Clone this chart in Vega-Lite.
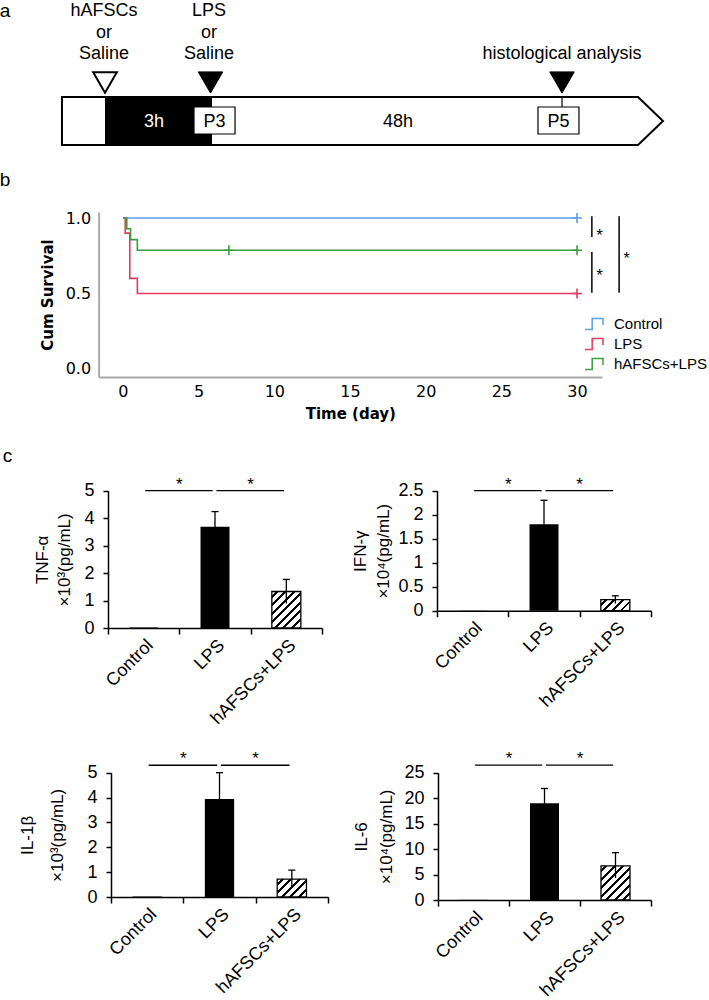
{
  "$schema": "https://vega.github.io/schema/vega-lite/v6.json",
  "width": 709,
  "height": 1000,
  "padding": 0,
  "autosize": {"type": "none"},
  "background": "white",
  "config": {"view": {"stroke": null}, "font": "Liberation Sans, Arial, sans-serif", "axis": {"grid": false}},
  "datasets": {
    "diagramOutline": [
      {"x": 8.74, "y": 64.67, "ord": 1}, {"x": 89.99, "y": 64.67, "ord": 2}, {"x": 93.51, "y": 80.67, "ord": 3},
      {"x": 89.99, "y": 96.67, "ord": 4}, {"x": 8.74, "y": 96.67, "ord": 5}, {"x": 8.74, "y": 64.67, "ord": 6}
    ],
    "diagramBlack": [{"x": 14.81, "x2": 29.9, "y": 64.67, "y2": 96.67}],
    "diagramBoxes": [{"x": 27.36, "x2": 33.15, "y": 71.33, "y2": 89.33}, {"x": 75.88, "x2": 81.66, "y": 71.33, "y2": 89.33}],
    "diagramTick": [{"x": 79.27, "y": 64.67, "y2": 71.33}],
    "openTriangle": [{"x": 14.81, "y": 55}],
    "filledTriangle": [{"x": 29.69, "y": 55}, {"x": 79.27, "y": 55}],
    "diagramText": [
      {"x": 14.67, "y": 7.33, "t": "hAFSCs"}, {"x": 14.67, "y": 21.67, "t": "or"}, {"x": 14.67, "y": 35.67, "t": "Saline"},
      {"x": 29.48, "y": 7.33, "t": "LPS"}, {"x": 29.48, "y": 21.67, "t": "or"}, {"x": 29.48, "y": 35.67, "t": "Saline"},
      {"x": 79.27, "y": 35.67, "t": "histological analysis"},
      {"x": 30.25, "y": 81, "t": "P3"}, {"x": 56.14, "y": 81.33, "t": "48h"}, {"x": 78.77, "y": 81, "t": "P5"}
    ],
    "diagramTextWhite": [{"x": 21.72, "y": 81.33, "t": "3h"}],
    "panelLetters": [{"x": 0.7, "y": 7.0, "t": "a"}, {"x": 0.7, "y": 120, "t": "b"}, {"x": 1.06, "y": 304, "t": "c"}],
    "survival": [
      {"group": "Control", "day": 0, "surv": 1}, {"group": "Control", "day": 30, "surv": 1},
      {"group": "LPS", "day": 0, "surv": 1}, {"group": "LPS", "day": 0.15, "surv": 0.9}, {"group": "LPS", "day": 0.45, "surv": 0.6},
      {"group": "LPS", "day": 0.95, "surv": 0.5}, {"group": "LPS", "day": 30, "surv": 0.5},
      {"group": "hAFSCs+LPS", "day": 0, "surv": 1}, {"group": "hAFSCs+LPS", "day": 0.25, "surv": 0.929},
      {"group": "hAFSCs+LPS", "day": 0.5, "surv": 0.857}, {"group": "hAFSCs+LPS", "day": 0.95, "surv": 0.786},
      {"group": "hAFSCs+LPS", "day": 30, "surv": 0.786}
    ],
    "censor": [
      {"group": "Control", "day": 30, "surv": 1}, {"group": "LPS", "day": 30, "surv": 0.5},
      {"group": "hAFSCs+LPS", "day": 7, "surv": 0.786}, {"group": "hAFSCs+LPS", "day": 30, "surv": 0.786}
    ],
    "brackets": [
      {"day": 30.98, "surv": 1.011, "surv2": 0.874}, {"day": 30.98, "surv": 0.775, "surv2": 0.504}, {"day": 32.78, "surv": 1.011, "surv2": 0.504}
    ],
    "bstars": [{"day": 31.49, "surv": 0.907, "t": "*"}, {"day": 31.49, "surv": 0.636, "t": "*"}, {"day": 33.28, "surv": 0.753, "t": "*"}],
    "tnf": [{"group": "Control", "v": 0.02}, {"group": "LPS", "v": 3.69}, {"group": "hAFSCs+LPS", "v": 1.33}],
    "tnfErr": [{"group": "LPS", "v": 4.24, "v2": 3.14}, {"group": "hAFSCs+LPS", "v": 1.77, "v2": 0.89}],
    "tnfSig": [{"group": "Control", "group2": "LPS", "v": 5.0, "t": "*"}, {"group": "LPS", "group2": "hAFSCs+LPS", "v": 5.0, "t": "*"}],
    "ifn": [{"group": "Control", "v": 0.004}, {"group": "LPS", "v": 1.8}, {"group": "hAFSCs+LPS", "v": 0.23}],
    "ifnErr": [{"group": "LPS", "v": 2.3, "v2": 1.3}, {"group": "hAFSCs+LPS", "v": 0.31, "v2": 0.15}],
    "ifnSig": [{"group": "Control", "group2": "LPS", "v": 2.5, "t": "*"}, {"group": "LPS", "group2": "hAFSCs+LPS", "v": 2.5, "t": "*"}],
    "il1": [{"group": "Control", "v": 0.02}, {"group": "LPS", "v": 3.94}, {"group": "hAFSCs+LPS", "v": 0.72}],
    "il1Err": [{"group": "LPS", "v": 5.0, "v2": 2.88}, {"group": "hAFSCs+LPS", "v": 1.08, "v2": 0.36}],
    "il1Sig": [{"group": "Control", "group2": "LPS", "v": 5.3, "t": "*"}, {"group": "LPS", "group2": "hAFSCs+LPS", "v": 5.3, "t": "*"}],
    "il6": [{"group": "Control", "v": 0.03}, {"group": "LPS", "v": 19.0}, {"group": "hAFSCs+LPS", "v": 6.7}],
    "il6Err": [{"group": "LPS", "v": 21.9, "v2": 16.1}, {"group": "hAFSCs+LPS", "v": 9.3, "v2": 4.3}],
    "il6Sig": [{"group": "Control", "group2": "LPS", "v": 26.5, "t": "*"}, {"group": "LPS", "group2": "hAFSCs+LPS", "v": 26.5, "t": "*"}]
  },
  "resolve": {"scale": {"x": "independent", "y": "independent"}, "axis": {"x": "independent", "y": "independent"}},
  "layer": [
    {
      "encoding": {
        "x": {"field": "x", "type": "quantitative", "scale": {"domain": [0, 100], "range": [0, 709], "nice": false, "zero": false}, "axis": null},
        "y": {"field": "y", "type": "quantitative", "scale": {"domain": [0, 100], "range": [0, 150], "nice": false, "zero": false}, "axis": null}
      },
      "layer": [
        {"data": {"name": "diagramBlack"}, "mark": {"type": "rect", "fill": "black"}, "encoding": {"x2": {"field": "x2"}, "y2": {"field": "y2"}}},
        {"data": {"name": "diagramOutline"}, "mark": {"type": "line", "stroke": "black", "strokeWidth": 2, "strokeCap": "square", "strokeJoin": "miter"}, "encoding": {"order": {"field": "ord", "type": "quantitative"}}},
        {"data": {"name": "diagramBoxes"}, "mark": {"type": "rect", "fill": "white", "stroke": "black", "strokeWidth": 1.2}, "encoding": {"x2": {"field": "x2"}, "y2": {"field": "y2"}}},
        {"data": {"name": "diagramTick"}, "mark": {"type": "rule", "stroke": "black", "strokeWidth": 1.2}, "encoding": {"y2": {"field": "y2"}}},
        {"data": {"name": "openTriangle"}, "mark": {"type": "point", "shape": "triangle-down", "size": 560, "filled": true, "fill": "white", "stroke": "black", "strokeWidth": 2, "opacity": 1}, "encoding": {}},
        {"data": {"name": "filledTriangle"}, "mark": {"type": "point", "shape": "triangle-down", "size": 600, "filled": true, "fill": "black", "stroke": "black", "strokeWidth": 1, "opacity": 1}, "encoding": {}},
        {"data": {"name": "diagramText"}, "mark": {"type": "text", "font": "Liberation Sans, Arial, sans-serif", "fontSize": 18, "align": "center", "baseline": "middle", "color": "black"}, "encoding": {"text": {"field": "t"}}},
        {"data": {"name": "diagramTextWhite"}, "mark": {"type": "text", "font": "Liberation Sans, Arial, sans-serif", "fontSize": 18, "align": "center", "baseline": "middle", "color": "white"}, "encoding": {"text": {"field": "t"}}},
        {"data": {"name": "panelLetters"}, "mark": {"type": "text", "fontSize": 19, "align": "center", "baseline": "middle", "color": "black"}, "encoding": {"text": {"field": "t"}}}
      ]
    },
    {
      "encoding": {
        "x": {"field": "day", "type": "quantitative",
          "scale": {"domain": [-1.61, 31.65], "range": [98.6, 602], "nice": false, "zero": false},
          "axis": {"orient": "bottom", "offset": -623, "values": [0, 5, 10, 15, 20, 25, 30], "title": "Time (day)", "titleFont": "DejaVu Sans, sans-serif", "titleFontWeight": "bold", "titleFontSize": 15, "titlePadding": 7, "titleColor": "black", "labelFont": "DejaVu Sans, sans-serif", "labelFontSize": 16, "labelPadding": 6, "labelColor": "black", "ticks": false, "domainColor": "#aaaaaa", "domainWidth": 2, "labelFlush": false}},
        "y": {"field": "surv", "type": "quantitative",
          "scale": {"domain": [-0.054, 1.04], "range": [377, 212], "nice": false, "zero": false},
          "axis": {"orient": "left", "offset": -98.6, "values": [0, 0.5, 1], "format": ".1f", "title": "Cum Survival", "titleFont": "DejaVu Sans, sans-serif", "titleFontWeight": "bold", "titleFontSize": 15, "titleX": -51, "titleBaseline": "middle", "titleColor": "black", "labelFont": "DejaVu Sans, sans-serif", "labelFontSize": 16, "labelPadding": 8, "labelColor": "black", "ticks": false, "domainColor": "#aaaaaa", "domainWidth": 2}}
      },
      "layer": [
        {"data": {"name": "survival"}, "mark": {"type": "line", "interpolate": "step-after", "strokeWidth": 1.6},
          "encoding": {"color": {"field": "group", "type": "nominal",
            "scale": {"domain": ["Control", "LPS", "hAFSCs+LPS"], "range": ["#5b9ee6", "#e6395e", "#3c9e3c"]},
            "legend": {"title": null, "orient": "none", "legendX": 584, "legendY": 314, "padding": 0, "symbolType": "M-1,0.6H-0.2V-0.6H1V0.1", "symbolSize": 324, "symbolStrokeWidth": 1.5, "labelFontSize": 15, "labelFont": "Liberation Sans, Arial, sans-serif", "labelColor": "black", "labelOffset": 10, "rowPadding": 1}}}},
        {"data": {"name": "censor"}, "mark": {"type": "point", "shape": "M-1,0H1M0,-1V1", "size": 100, "strokeWidth": 1.6, "filled": false, "opacity": 1},
          "encoding": {"color": {"field": "group", "type": "nominal", "legend": null}}},
        {"data": {"name": "brackets"}, "mark": {"type": "rule", "color": "black", "strokeWidth": 1.5}, "encoding": {"y2": {"field": "surv2"}}},
        {"data": {"name": "bstars"}, "mark": {"type": "text", "fontSize": 16, "baseline": "middle", "align": "center", "dy": 3.5, "color": "black"}, "encoding": {"text": {"field": "t"}}}
      ]
    },
    {
      "encoding": {
        "x": {"field": "group", "type": "nominal", "sort": null,
          "scale": {"domain": ["Control", "LPS", "hAFSCs+LPS"], "range": [108, 322], "paddingInner": 0, "paddingOuter": 0},
          "axis": {"orient": "bottom", "offset": -372, "title": null, "labelAngle": -45, "labelFontSize": 18, "labelColor": "black", "labelPadding": 2, "labelOverlap": false, "tickBand": "extent", "tickSize": 6, "tickColor": "black", "tickWidth": 1.5, "domainColor": "black", "domainWidth": 1.5}},
        "y": {"field": "v", "type": "quantitative",
          "scale": {"domain": [0, 5], "range": [628, 490.7], "nice": false, "zero": false},
          "axis": {"orient": "left", "offset": -108, "values": [0, 1, 2, 3, 4, 5], "title": ["TNF-α", "×10³(pg/mL)"], "titleFontSize": 17, "titleFontWeight": "normal", "titleX": -66, "titleBaseline": "middle", "titleLineHeight": 22, "titleColor": "black", "labelFontSize": 18, "labelColor": "black", "labelPadding": 9, "tickSize": 5, "tickColor": "black", "tickWidth": 1.5, "domainColor": "black", "domainWidth": 1.5}}
      },
      "layer": [
        {"data": {"name": "tnf"}, "transform": [{"filter": "datum.group !== 'hAFSCs+LPS'"}], "mark": {"type": "bar", "fill": "black", "width": {"band": 0.4066}}, "encoding": {}},
        {"data": {"name": "tnf"}, "transform": [{"filter": "datum.group === 'hAFSCs+LPS'"}], "mark": {"type": "bar", "width": {"band": 0.4066}, "stroke": "black", "strokeWidth": 1.3,
          "fill": {"gradient": "linear", "x1": 0, "y1": 0, "x2": 0.874, "y2": 1.1, "stops": [
            {"offset": 0, "color": "white"}, {"offset": 0.061, "color": "white"}, {"offset": 0.061, "color": "black"}, {"offset": 0.104, "color": "black"},
            {"offset": 0.104, "color": "white"}, {"offset": 0.191, "color": "white"}, {"offset": 0.191, "color": "black"}, {"offset": 0.234, "color": "black"},
            {"offset": 0.234, "color": "white"}, {"offset": 0.321, "color": "white"}, {"offset": 0.321, "color": "black"}, {"offset": 0.363, "color": "black"},
            {"offset": 0.363, "color": "white"}, {"offset": 0.45, "color": "white"}, {"offset": 0.45, "color": "black"}, {"offset": 0.493, "color": "black"},
            {"offset": 0.493, "color": "white"}, {"offset": 0.58, "color": "white"}, {"offset": 0.58, "color": "black"}, {"offset": 0.623, "color": "black"},
            {"offset": 0.623, "color": "white"}, {"offset": 0.71, "color": "white"}, {"offset": 0.71, "color": "black"}, {"offset": 0.753, "color": "black"},
            {"offset": 0.753, "color": "white"}, {"offset": 0.84, "color": "white"}, {"offset": 0.84, "color": "black"}, {"offset": 0.882, "color": "black"},
            {"offset": 0.882, "color": "white"}, {"offset": 0.969, "color": "white"}, {"offset": 0.969, "color": "black"}, {"offset": 1, "color": "black"}]}},
          "encoding": {}},
        {"data": {"name": "tnfErr"}, "mark": {"type": "rule", "color": "black", "strokeWidth": 1.3}, "encoding": {"y2": {"field": "v2"}}},
        {"data": {"name": "tnfErr"}, "mark": {"type": "tick", "color": "black", "size": 7, "thickness": 1.3, "opacity": 1}, "encoding": {}},
        {"data": {"name": "tnfSig"}, "mark": {"type": "rule", "color": "black", "strokeWidth": 1.3, "xOffset": 1.5, "x2Offset": -2.3}, "encoding": {"x2": {"field": "group2"}}},
        {"data": {"name": "tnfSig"}, "mark": {"type": "text", "fontSize": 17, "align": "center", "baseline": "middle", "dx": 35.67, "dy": -6, "color": "black"}, "encoding": {"text": {"field": "t"}}}
      ]
    },
    {
      "encoding": {
        "x": {"field": "group", "type": "nominal", "sort": null,
          "scale": {"domain": ["Control", "LPS", "hAFSCs+LPS"], "range": [437, 651], "paddingInner": 0, "paddingOuter": 0},
          "axis": {"orient": "bottom", "offset": -389.3, "title": null, "labelAngle": -45, "labelFontSize": 18, "labelColor": "black", "labelPadding": 2, "labelOverlap": false, "tickBand": "extent", "tickSize": 6, "tickColor": "black", "tickWidth": 1.5, "domainColor": "black", "domainWidth": 1.5}},
        "y": {"field": "v", "type": "quantitative",
          "scale": {"domain": [0, 2.5], "range": [610.7, 490.7], "nice": false, "zero": false},
          "axis": {"orient": "left", "offset": -437, "values": [0, 0.5, 1, 1.5, 2, 2.5], "format": "~g", "title": ["IFN-γ", "×10⁴(pg/mL)"], "titleFontSize": 17, "titleFontWeight": "normal", "titleX": -77, "titleBaseline": "middle", "titleLineHeight": 23, "titleColor": "black", "labelFontSize": 18, "labelColor": "black", "labelPadding": 9, "tickSize": 5, "tickColor": "black", "tickWidth": 1.5, "domainColor": "black", "domainWidth": 1.5}}
      },
      "layer": [
        {"data": {"name": "ifn"}, "transform": [{"filter": "datum.group !== 'hAFSCs+LPS'"}], "mark": {"type": "bar", "fill": "black", "width": {"band": 0.4066}}, "encoding": {}},
        {"data": {"name": "ifn"}, "transform": [{"filter": "datum.group === 'hAFSCs+LPS'"}], "mark": {"type": "bar", "width": {"band": 0.4066}, "stroke": "black", "strokeWidth": 1.3,
          "fill": {"gradient": "linear", "x1": 0, "y1": 0, "x2": 1.206, "y2": 0.46, "stops": [
            {"offset": 0, "color": "white"}, {"offset": 0.1, "color": "white"}, {"offset": 0.1, "color": "black"}, {"offset": 0.17, "color": "black"},
            {"offset": 0.17, "color": "white"}, {"offset": 0.312, "color": "white"}, {"offset": 0.312, "color": "black"}, {"offset": 0.382, "color": "black"},
            {"offset": 0.382, "color": "white"}, {"offset": 0.524, "color": "white"}, {"offset": 0.524, "color": "black"}, {"offset": 0.594, "color": "black"},
            {"offset": 0.594, "color": "white"}, {"offset": 0.737, "color": "white"}, {"offset": 0.737, "color": "black"}, {"offset": 0.807, "color": "black"},
            {"offset": 0.807, "color": "white"}, {"offset": 0.949, "color": "white"}, {"offset": 0.949, "color": "black"}, {"offset": 1, "color": "black"}]}},
          "encoding": {}},
        {"data": {"name": "ifnErr"}, "mark": {"type": "rule", "color": "black", "strokeWidth": 1.3}, "encoding": {"y2": {"field": "v2"}}},
        {"data": {"name": "ifnErr"}, "mark": {"type": "tick", "color": "black", "size": 7, "thickness": 1.3, "opacity": 1}, "encoding": {}},
        {"data": {"name": "ifnSig"}, "mark": {"type": "rule", "color": "black", "strokeWidth": 1.3, "xOffset": 1.5, "x2Offset": -2.3}, "encoding": {"x2": {"field": "group2"}}},
        {"data": {"name": "ifnSig"}, "mark": {"type": "text", "fontSize": 17, "align": "center", "baseline": "middle", "dx": 35.67, "dy": -6, "color": "black"}, "encoding": {"text": {"field": "t"}}}
      ]
    },
    {
      "encoding": {
        "x": {"field": "group", "type": "nominal", "sort": null,
          "scale": {"domain": ["Control", "LPS", "hAFSCs+LPS"], "range": [111, 328], "paddingInner": 0, "paddingOuter": 0},
          "axis": {"orient": "bottom", "offset": -103, "title": null, "labelAngle": -45, "labelFontSize": 18, "labelColor": "black", "labelPadding": 2, "labelOverlap": false, "tickBand": "extent", "tickSize": 6, "tickColor": "black", "tickWidth": 1.5, "domainColor": "black", "domainWidth": 1.5}},
        "y": {"field": "v", "type": "quantitative",
          "scale": {"domain": [0, 5], "range": [897, 772.7], "nice": false, "zero": false},
          "axis": {"orient": "left", "offset": -111, "values": [0, 1, 2, 3, 4, 5], "title": ["IL-1β", "×10³(pg/mL)"], "titleFontSize": 17, "titleFontWeight": "normal", "titleX": -84, "titleBaseline": "middle", "titleLineHeight": 30, "titleColor": "black", "labelFontSize": 18, "labelColor": "black", "labelPadding": 9, "tickSize": 5, "tickColor": "black", "tickWidth": 1.5, "domainColor": "black", "domainWidth": 1.5}}
      },
      "layer": [
        {"data": {"name": "il1"}, "transform": [{"filter": "datum.group !== 'hAFSCs+LPS'"}], "mark": {"type": "bar", "fill": "black", "width": {"band": 0.405}}, "encoding": {}},
        {"data": {"name": "il1"}, "transform": [{"filter": "datum.group === 'hAFSCs+LPS'"}], "mark": {"type": "bar", "width": {"band": 0.405}, "stroke": "black", "strokeWidth": 1.3,
          "fill": {"gradient": "linear", "x1": 0, "y1": 0, "x2": 1.173, "y2": 0.717, "stops": [
            {"offset": 0, "color": "white"}, {"offset": 0.085, "color": "white"}, {"offset": 0.085, "color": "black"}, {"offset": 0.144, "color": "black"},
            {"offset": 0.144, "color": "white"}, {"offset": 0.265, "color": "white"}, {"offset": 0.265, "color": "black"}, {"offset": 0.324, "color": "black"},
            {"offset": 0.324, "color": "white"}, {"offset": 0.445, "color": "white"}, {"offset": 0.445, "color": "black"}, {"offset": 0.504, "color": "black"},
            {"offset": 0.504, "color": "white"}, {"offset": 0.625, "color": "white"}, {"offset": 0.625, "color": "black"}, {"offset": 0.684, "color": "black"},
            {"offset": 0.684, "color": "white"}, {"offset": 0.805, "color": "white"}, {"offset": 0.805, "color": "black"}, {"offset": 0.864, "color": "black"},
            {"offset": 0.864, "color": "white"}, {"offset": 0.985, "color": "white"}, {"offset": 0.985, "color": "black"}, {"offset": 1, "color": "black"}]}},
          "encoding": {}},
        {"data": {"name": "il1Err"}, "mark": {"type": "rule", "color": "black", "strokeWidth": 1.3}, "encoding": {"y2": {"field": "v2"}}},
        {"data": {"name": "il1Err"}, "mark": {"type": "tick", "color": "black", "size": 7, "thickness": 1.3, "opacity": 1}, "encoding": {}},
        {"data": {"name": "il1Sig"}, "mark": {"type": "rule", "color": "black", "strokeWidth": 1.3, "xOffset": 1.5, "x2Offset": -2.3}, "encoding": {"x2": {"field": "group2"}}},
        {"data": {"name": "il1Sig"}, "mark": {"type": "text", "fontSize": 17, "align": "center", "baseline": "middle", "dx": 36.17, "dy": -6, "color": "black"}, "encoding": {"text": {"field": "t"}}}
      ]
    },
    {
      "encoding": {
        "x": {"field": "group", "type": "nominal", "sort": null,
          "scale": {"domain": ["Control", "LPS", "hAFSCs+LPS"], "range": [438, 651], "paddingInner": 0, "paddingOuter": 0},
          "axis": {"orient": "bottom", "offset": -100, "title": null, "labelAngle": -45, "labelFontSize": 18, "labelColor": "black", "labelPadding": 2, "labelOverlap": false, "tickBand": "extent", "tickSize": 6, "tickColor": "black", "tickWidth": 1.5, "domainColor": "black", "domainWidth": 1.5}},
        "y": {"field": "v", "type": "quantitative",
          "scale": {"domain": [0, 25], "range": [900, 772.7], "nice": false, "zero": false},
          "axis": {"orient": "left", "offset": -438, "values": [0, 5, 10, 15, 20, 25], "title": ["IL-6", "×10⁴(pg/mL)"], "titleFontSize": 17, "titleFontWeight": "normal", "titleX": -77, "titleBaseline": "middle", "titleLineHeight": 25.5, "titleColor": "black", "labelFontSize": 18, "labelColor": "black", "labelPadding": 9, "tickSize": 5, "tickColor": "black", "tickWidth": 1.5, "domainColor": "black", "domainWidth": 1.5}}
      },
      "layer": [
        {"data": {"name": "il6"}, "transform": [{"filter": "datum.group !== 'hAFSCs+LPS'"}], "mark": {"type": "bar", "fill": "black", "width": {"band": 0.4085}}, "encoding": {}},
        {"data": {"name": "il6"}, "transform": [{"filter": "datum.group === 'hAFSCs+LPS'"}], "mark": {"type": "bar", "width": {"band": 0.4085}, "stroke": "black", "strokeWidth": 1.3,
          "fill": {"gradient": "linear", "x1": 0, "y1": 0, "x2": 0.913, "y2": 1.074, "stops": [
            {"offset": 0, "color": "white"}, {"offset": 0.063, "color": "white"}, {"offset": 0.063, "color": "black"}, {"offset": 0.108, "color": "black"},
            {"offset": 0.108, "color": "white"}, {"offset": 0.198, "color": "white"}, {"offset": 0.198, "color": "black"}, {"offset": 0.242, "color": "black"},
            {"offset": 0.242, "color": "white"}, {"offset": 0.333, "color": "white"}, {"offset": 0.333, "color": "black"}, {"offset": 0.377, "color": "black"},
            {"offset": 0.377, "color": "white"}, {"offset": 0.468, "color": "white"}, {"offset": 0.468, "color": "black"}, {"offset": 0.512, "color": "black"},
            {"offset": 0.512, "color": "white"}, {"offset": 0.602, "color": "white"}, {"offset": 0.602, "color": "black"}, {"offset": 0.647, "color": "black"},
            {"offset": 0.647, "color": "white"}, {"offset": 0.737, "color": "white"}, {"offset": 0.737, "color": "black"}, {"offset": 0.781, "color": "black"},
            {"offset": 0.781, "color": "white"}, {"offset": 0.872, "color": "white"}, {"offset": 0.872, "color": "black"}, {"offset": 0.916, "color": "black"},
            {"offset": 0.916, "color": "white"}, {"offset": 1, "color": "white"}]}},
          "encoding": {}},
        {"data": {"name": "il6Err"}, "mark": {"type": "rule", "color": "black", "strokeWidth": 1.3}, "encoding": {"y2": {"field": "v2"}}},
        {"data": {"name": "il6Err"}, "mark": {"type": "tick", "color": "black", "size": 7, "thickness": 1.3, "opacity": 1}, "encoding": {}},
        {"data": {"name": "il6Sig"}, "mark": {"type": "rule", "color": "black", "strokeWidth": 1.3, "xOffset": 1.5, "x2Offset": -2.3}, "encoding": {"x2": {"field": "group2"}}},
        {"data": {"name": "il6Sig"}, "mark": {"type": "text", "fontSize": 17, "align": "center", "baseline": "middle", "dx": 35.5, "dy": -6, "color": "black"}, "encoding": {"text": {"field": "t"}}}
      ]
    }
  ]
}
